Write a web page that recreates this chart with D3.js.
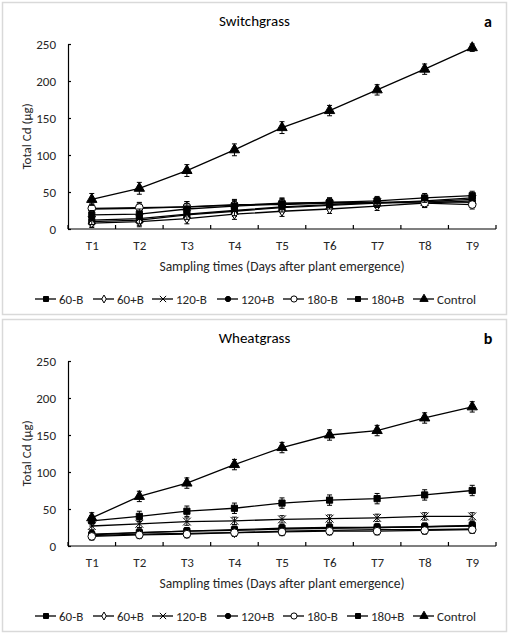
<!DOCTYPE html>
<html><head><meta charset="utf-8">
<script src="https://cdn.jsdelivr.net/npm/d3@7"></script>
<style>
body{margin:0;background:#fff;}
text{font-family:Carlito,Calibri,Lato,"Open Sans",sans-serif;}
</style></head>
<body><svg id="c" width="510" height="635"></svg>
<script>
const categories = ["T1","T2","T3","T4","T5","T6","T7","T8","T9"];
const seriesNames = ["60-B","60+B","120-B","120+B","180-B","180+B","Control"];
const yTicks = [0,50,100,150,200,250];

// Switchgrass (panel a)
const sw60m   = [10, 12, 19, 24, 29, 32, 35, 38, 42];
const sw60p   = [8, 10, 14, 20, 24, 27, 31, 35, 38];
const sw120m  = [12, 14, 20, 25, 30, 33, 36, 37, 40];
const sw120p  = [27, 28, 30, 33, 33, 35, 35, 37, 36];
const sw180m  = [28, 29, 30, 32, 35, 36, 36, 35, 33];
const sw180p  = [19, 20, 27, 31, 34, 36, 38, 42, 45];
const swCtrl  = [40, 55, 79, 107, 137, 160, 188, 216, 245];
const swErr   = [6, 7, 7, 7, 7, 6, 6, 6, 6];
const swCtrlErr = [8, 8, 8, 8, 8, 7, 7, 7, 5];

// Wheatgrass (panel b)
const wh60m   = [15, 18, 20, 22, 24, 25, 25, 26, 28];
const wh60p   = [14, 16, 17, 18, 20, 21, 22, 22, 23];
const wh120m  = [27, 30, 33, 34, 36, 37, 38, 40, 40];
const wh120p  = [16, 18, 20, 21, 23, 24, 25, 26, 27];
const wh180m  = [13, 15, 16, 18, 19, 20, 20, 21, 22];
const wh180p  = [34, 40, 47, 51, 58, 62, 64, 69, 75];
const whCtrl  = [38, 67, 85, 110, 133, 150, 156, 173, 188];
const whErr   = [5, 5, 5, 5, 5, 5, 5, 5, 5];
const whCtrl180Err = [7, 7, 7, 7, 7, 7, 7, 7, 7];

const panels = [
  {title:"Switchgrass", tag:"a", off:0,
   data:[sw60m,sw60p,sw120m,sw120p,sw180m,sw180p,swCtrl],
   err:[swErr,swErr,swErr,swErr,swErr,swErr,swCtrlErr]},
  {title:"Wheatgrass", tag:"b", off:317,
   data:[wh60m,wh60p,wh120m,wh120p,wh180m,wh180p,whCtrl],
   err:[whErr,whErr,whErr,whErr,whErr,whCtrl180Err,whCtrl180Err]}
];

const timesSym = d3.symbolTimes || d3.symbolX;
const markers = [
  {type:d3.symbolSquare, size:38, fill:"#000"},
  {type:d3.symbolDiamond, size:28, fill:"#fff"},
  {type:timesSym, size:42, fill:"none"},
  {type:d3.symbolCircle, size:34, fill:"#000"},
  {type:d3.symbolCircle, size:46, fill:"#fff"},
  {type:d3.symbolSquare, size:38, fill:"#000"},
  {type:d3.symbolTriangle, size:46, fill:"#000"}
];

const svg = d3.select("#c");
const L = 68, R = 496, T = 44, B = 229;
const xBand = d3.scaleBand().domain(categories).range([L,R]).padding(0);
const x = d3.scalePoint().domain(categories).range([L,R]).padding(0.5);
const y = d3.scaleLinear().domain([0,250]).range([B,T]);
const txt = "#262626";

panels.forEach(p=>{
  const g = svg.append("g").attr("transform",`translate(0,${p.off})`);
  g.append("rect").attr("x",2.5).attr("y",2.5).attr("width",504).attr("height",312)
    .attr("fill","#fff").attr("stroke","#d9d9d9").attr("stroke-width",1.5);
  g.append("text").attr("x",254.5).attr("y",26).attr("text-anchor","middle")
    .attr("font-size",15).attr("fill","#000").text(p.title);
  g.append("text").attr("x",488).attr("y",27).attr("text-anchor","middle")
    .attr("font-size",16).attr("font-weight","bold").attr("fill","#000").text(p.tag);

  // y axis
  const ya = g.append("g").attr("transform",`translate(${L},0)`)
    .call(d3.axisLeft(y).tickValues(yTicks).tickSizeInner(-3).tickSizeOuter(0).tickPadding(12));
  ya.select(".domain").attr("stroke","#000").attr("stroke-width",1.2);
  ya.selectAll(".tick line").attr("stroke","#000").attr("stroke-width",1.2);
  ya.selectAll("text").attr("font-size",13).attr("fill",txt)
    .style("font-family","Carlito,Calibri,Lato,sans-serif");

  // x axis
  const xa = g.append("g").attr("transform",`translate(0,${B})`)
    .call(d3.axisBottom(x).tickSize(0).tickPadding(12));
  xa.select(".domain").remove();
  xa.selectAll("text").attr("font-size",13).attr("fill",txt)
    .style("font-family","Carlito,Calibri,Lato,sans-serif");
  g.append("line").attr("x1",L).attr("x2",R).attr("y1",B).attr("y2",B)
    .attr("stroke","#000").attr("stroke-width",1.2);
  const bounds = categories.map(c=>xBand(c)).concat([xBand.range()[1]]);
  g.selectAll(".xt").data(bounds).join("line")
    .attr("x1",d=>d).attr("x2",d=>d).attr("y1",B).attr("y2",B-4)
    .attr("stroke","#000").attr("stroke-width",1.2);

  g.append("text").attr("transform",`translate(31,${(T+B)/2}) rotate(-90)`)
    .attr("text-anchor","middle").attr("font-size",13).attr("fill",txt).text("Total Cd (µg)");
  g.append("text").attr("x",(L+R)/2).attr("y",271).attr("text-anchor","middle")
    .attr("font-size",13.5).attr("fill",txt).text("Sampling times (Days after plant emergence)");

  const line = d3.line().x((d,i)=>x(categories[i])).y(d=>y(d));
  p.data.forEach((vals,si)=>{
    const sg = g.append("g");
    sg.append("path").datum(vals).attr("d",line).attr("fill","none")
      .attr("stroke","#000").attr("stroke-width",1.3);
    const errs = p.err[si];
    vals.forEach((v,i)=>{
      const cx = x(categories[i]);
      const e = errs[i];
      sg.append("line").attr("x1",cx).attr("x2",cx).attr("y1",y(v-e)).attr("y2",y(v+e))
        .attr("stroke","#000").attr("stroke-width",1);
      [v-e,v+e].forEach(w=>sg.append("line").attr("x1",cx-2.5).attr("x2",cx+2.5)
        .attr("y1",y(w)).attr("y2",y(w)).attr("stroke","#000").attr("stroke-width",1));
    });
    const m = markers[si];
    sg.selectAll(".m").data(vals).join("path")
      .attr("transform",(d,i)=>`translate(${x(categories[i])},${y(d)})`)
      .attr("d",d3.symbol().type(m.type).size(m.size))
      .attr("fill",m.fill).attr("stroke","#000").attr("stroke-width",1);
  });

  // legend
  const legX = [35,93,152,217,283,347,413];
  const lg = g.append("g").attr("transform","translate(0,299)");
  seriesNames.forEach((n,i)=>{
    const x0 = legX[i];
    lg.append("line").attr("x1",x0).attr("x2",x0+21).attr("y1",0).attr("y2",0)
      .attr("stroke","#000").attr("stroke-width",1.3);
    const m = markers[i];
    lg.append("path").attr("transform",`translate(${x0+11},0)`)
      .attr("d",d3.symbol().type(m.type).size(m.size*0.65))
      .attr("fill",m.fill).attr("stroke","#000").attr("stroke-width",1);
    lg.append("text").attr("x",x0+24).attr("y",4.5).attr("font-size",13)
      .attr("fill",txt).text(n);
  });
});
</script></body></html>
